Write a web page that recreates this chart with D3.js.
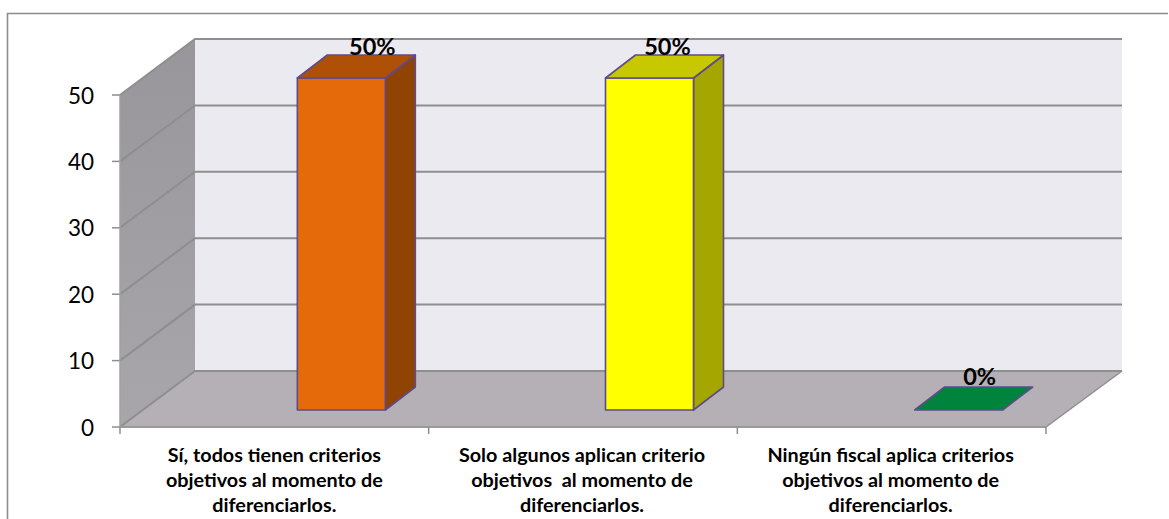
<!DOCTYPE html>
<html><head><meta charset="utf-8">
<script src="https://cdnjs.cloudflare.com/ajax/libs/d3/7.8.5/d3.min.js"></script>
<style>html,body{margin:0;padding:0;background:#fff}svg{display:block}</style></head>
<body><svg id="c" width="1169" height="519"></svg>
<script>
const categories = [
  ["Sí, todos tienen criterios","objetivos al momento de","diferenciarlos."],
  ["Solo algunos aplican criterio","objetivos  al momento de","diferenciarlos."],
  ["Ningún fiscal aplica criterios","objetivos al momento de","diferenciarlos."]
];
const values = [50, 50, 0];
const valueLabels = ["50%", "50%", "0%"];
const tickValues = [0, 10, 20, 30, 40, 50];
const frontColors = ["#E56B0A", "#FFFF00", "#00843D"];
const sideColors = ["#8F4404", "#A6A600", "#00602C"];
const topColors = ["#AE5005", "#C8C800", "#00843D"];
const labelShift = [0, -1, -1];
const valueShift = [16, 3, 6];

const svg = d3.select("#c");
const font = "Lato, sans-serif";
const W = {x0:120, x1:1046, y0:427, y50:95, dx:75, dy:-56};
const y = d3.scaleLinear().domain([0,50]).range([W.y0, W.y50]);
const x = d3.scaleBand().domain(d3.range(categories.length)).range([W.x0, W.x1]);
const poly = pts => pts.map(p=>p.join(",")).join(" ");
const defs = svg.append("defs");
const g = defs.append("linearGradient").attr("id","wall").attr("x1",0).attr("x2",0).attr("y1",0).attr("y2",1);
g.append("stop").attr("offset","0").attr("stop-color","#98969A");
g.append("stop").attr("offset","1").attr("stop-color","#A9A6AB");

svg.append("path").attr("d","M7.5,519V13.5H1168").attr("fill","none").attr("stroke","#8c8c8c").attr("stroke-width",1.6);

// back wall, side wall, floor
svg.append("polygon").attr("fill","#ECEAF1")
  .attr("points",poly([[W.x0+W.dx,y(50)+W.dy],[W.x1+W.dx+1,y(50)+W.dy],[W.x1+W.dx+1,y(0)+W.dy],[W.x0+W.dx,y(0)+W.dy]]));
svg.append("polygon").attr("fill","url(#wall)")
  .attr("points",poly([[W.x0,y(50)],[W.x0+W.dx,y(50)+W.dy],[W.x0+W.dx,y(0)+W.dy],[W.x0,y(0)]]));
svg.append("polygon").attr("fill","#B5B0B6")
  .attr("points",poly([[W.x0,y(0)],[W.x0+W.dx,y(0)+W.dy],[W.x1+W.dx+1,y(0)+W.dy],[W.x1,y(0)]]));

// gridlines
tickValues.forEach(t=>{
  const py=y(t);
  svg.append("polyline").attr("fill","none").attr("stroke","#8e8e8e").attr("stroke-width",2)
    .attr("points",poly([[W.x0,py],[W.x0+W.dx,py+W.dy],[W.x1+W.dx+1,py+W.dy]]));
  svg.append("line").attr("x1",W.x0-8).attr("x2",W.x0).attr("y1",py).attr("y2",py).attr("stroke","#8e8e8e").attr("stroke-width",1.5);
  svg.append("text").attr("x",W.x0-26).attr("y",py+8.5).attr("text-anchor","end")
    .attr("font-family",font).attr("font-size",22.5).attr("fill","#000").text(t);
});
svg.append("polyline").attr("fill","none").attr("stroke","#8e8e8e").attr("stroke-width",1.5)
  .attr("points",poly([[W.x1,y(0)],[W.x1+W.dx+1,y(0)+W.dy]]));
svg.append("line").attr("x1",W.x0).attr("x2",W.x0).attr("y1",y(50)).attr("y2",y(0)).attr("stroke","#a0a0a0").attr("stroke-width",1.5);
svg.append("line").attr("x1",W.x0).attr("x2",W.x1).attr("y1",y(0)).attr("y2",y(0)).attr("stroke","#9a9a9a").attr("stroke-width",2);
d3.range(4).forEach(i=>{
  const px=W.x0+i*x.bandwidth();
  svg.append("line").attr("x1",px).attr("x2",px).attr("y1",y(0)).attr("y2",y(0)+7).attr("stroke","#8e8e8e").attr("stroke-width",1.5);
});

// bars
const bw=88, off=23, bdx=30, bdy=-23, rise=17;
values.forEach((v,i)=>{
  const L=x(i)+x.bandwidth()/2+off-(i===1?0.5:0), R=L+bw, B=y(0)-rise, T=y(v)-rise;
  const gb=svg.append("g").attr("stroke","#5F4B8B").attr("stroke-width",1.6).attr("stroke-linejoin","round");
  if(v>0){
    gb.append("polygon").attr("fill",sideColors[i]).attr("points",poly([[R,T],[R+bdx,T+bdy],[R+bdx,B+bdy],[R,B]]));
    gb.append("polygon").attr("fill",frontColors[i]).attr("points",poly([[L,T],[R,T],[R,B],[L,B]]));
  }
  gb.append("polygon").attr("fill",topColors[i]).attr("points",poly([[L,T],[L+bdx,T+bdy],[R+bdx,T+bdy],[R,T]]));
  svg.append("text").attr("x",(L+R+bdx)/2+valueShift[i]).attr("y",T+bdy+(v>0?0:-2)).attr("text-anchor","middle")
    .attr("font-family",font).attr("font-weight",700).attr("font-size",23.5).attr("fill","#000").text(valueLabels[i]);
});

// category labels
categories.forEach((lines,i)=>{
  const cx=x(i)+x.bandwidth()/2+labelShift[i];
  lines.forEach((s,j)=>{
    svg.append("text").attr("x",cx).attr("y",461.5+j*25.3).attr("text-anchor","middle")
      .style("white-space","pre")
      .attr("font-family",font).attr("font-weight",700).attr("font-size",19.8).attr("fill","#000").text(s);
  });
});
</script></body></html>
